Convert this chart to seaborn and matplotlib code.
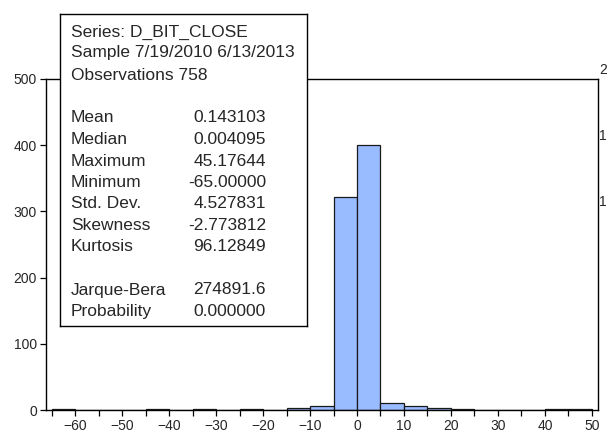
import numpy as np
import pandas as pd
import matplotlib
matplotlib.use("Agg")
import matplotlib.pyplot as plt
import seaborn as sns

# Histogram of daily changes in BIT close, bins of width 5
bin_edges = list(range(-65, 55, 5))
bin_counts = [1, 0, 0, 0, 1, 0, 1, 0, 1, 0, 3, 6, 322, 401, 10, 6, 3, 1, 0, 0, 0, 1, 1]

x_ticks = list(range(-60, 60, 10))
y_ticks = [0, 100, 200, 300, 400, 500]

stat_labels = ["Mean", "Median", "Maximum", "Minimum", "Std. Dev.", "Skewness",
               "Kurtosis", "", "Jarque-Bera", "Probability"]
stat_values = ["0.143103", "0.004095", "45.17644", "-65.00000", "4.527831",
               "-2.773812", "96.12849", "", "274891.6", "0.000000"]
header_lines = ["Series: D_BIT_CLOSE", "Sample 7/19/2010 6/13/2013", "Observations 758"]
side_labels = ["2", "1", "1"]

sns.set_style("white")
plt.rcParams["font.family"] = ["Liberation Sans", "DejaVu Sans"]

W, H = 607, 434
fig = plt.figure(figsize=(W / 100, H / 100), dpi=100)


def fx(px):
    return px / W


def fy(py):
    return 1 - py / H


ax = fig.add_axes([fx(46), fy(410), fx(598) - fx(46), fy(79) - fy(410)])

centers = [e + 2.5 for e in bin_edges[:-1]]
df = pd.DataFrame({"value": centers, "count": bin_counts})
sns.histplot(data=df, x="value", weights="count", bins=bin_edges, ax=ax,
             color="#99BBFF", edgecolor="#1a1a1a", linewidth=0.9, alpha=1.0)

ax.set_xlim(-66.2, 51.3)
ax.set_ylim(0, 500)
ax.set_xlabel("")
ax.set_ylabel("")
ax.set_xticks(x_ticks)
ax.set_xticks([t - 5 for t in x_ticks], minor=True)
ax.set_yticks(y_ticks)
ax.tick_params(axis="both", which="both", direction="out", length=4.5,
               width=0.9, color="black", labelsize=10, pad=2,
               bottom=True, left=True, top=False, right=False)
for s in ax.spines.values():
    s.set_visible(True)
    s.set_color("black")
    s.set_linewidth(1.0)

# Statistics panel overlapping the plot area
box = fig.add_axes([fx(60), fy(326), fx(307) - fx(60), fy(14) - fy(326)])
box.set_facecolor("white")
box.set_xticks([])
box.set_yticks([])
for s in box.spines.values():
    s.set_visible(True)
    s.set_color("black")
    s.set_linewidth(1.0)

fs = 12.5
line_y = [31, 52, 74]
for txt, yc in zip(header_lines, line_y):
    fig.text(fx(71), fy(yc + 5.5), txt, fontsize=fs, ha="left", va="baseline", zorder=10)

y0 = 117
step = 21.5
for i, (lab, val) in enumerate(zip(stat_labels, stat_values)):
    yc = y0 + i * step
    if lab:
        fig.text(fx(71), fy(yc + 5.5), lab, fontsize=fs, ha="left", va="baseline", zorder=10)
        fig.text(fx(266), fy(yc + 5.5), val, fontsize=fs, ha="right", va="baseline", zorder=10)

# Labels of the neighbouring scale at the right edge
for lab, yc in zip(side_labels, [70, 136, 202]):
    fig.text(fx(599.5), fy(yc), lab, fontsize=10, ha="left", va="center")

fig.savefig("out.png", dpi=100, facecolor="white")
